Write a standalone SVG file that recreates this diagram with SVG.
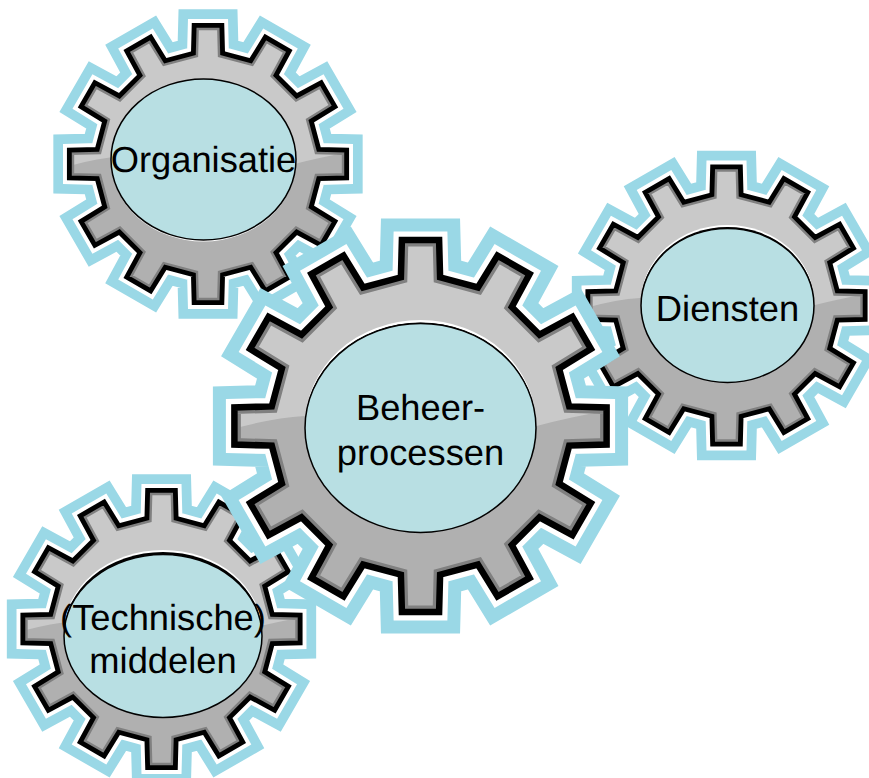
<svg xmlns="http://www.w3.org/2000/svg" width="869" height="778" viewBox="0 0 869 778">
<style>
.halo{fill:none;stroke:#9ad8e6;stroke-width:43;stroke-linejoin:miter;stroke-miterlimit:12}
.gap{fill:#fff;stroke:#fff;stroke-width:17;stroke-linejoin:miter;stroke-miterlimit:12}
.bevel{fill:none;stroke:#808080;stroke-width:13;stroke-linejoin:miter}
.edge{fill:none;stroke:#000;stroke-width:6.5;stroke-linejoin:miter;stroke-miterlimit:12}
.hub{fill:#b8dfe3;stroke:#000;stroke-width:1.5}
.shine{fill:#fff}
.rim{fill:#000}
text{font-family:"Liberation Sans",Arial,sans-serif;font-size:36.3px;fill:#000;text-anchor:middle;text-rendering:geometricPrecision}
</style>
<defs>
<polygon id="outline" points="18.6,-186.1 19.6,-148.7 57.4,-138.6 77,-170.4 109.1,-151.9 91.3,-119 119,-91.3 151.9,-109.1 170.4,-77 138.6,-57.4 148.7,-19.6 186.1,-18.6 186.1,18.6 148.7,19.6 138.6,57.4 170.4,77 151.9,109.1 119,91.3 91.3,119 109.1,151.9 77,170.4 57.4,138.6 19.6,148.7 18.6,186.1 -18.6,186.1 -19.6,148.7 -57.4,138.6 -77,170.4 -109.1,151.9 -91.3,119 -119,91.3 -151.9,109.1 -170.4,77 -138.6,57.4 -148.7,19.6 -186.1,18.6 -186.1,-18.6 -148.7,-19.6 -138.6,-57.4 -170.4,-77 -151.9,-109.1 -119,-91.3 -91.3,-119 -109.1,-151.9 -77,-170.4 -57.4,-138.6 -19.6,-148.7 -18.6,-186.1"/>
<clipPath id="inside"><use href="#outline"/></clipPath>
<g id="gear">
<use href="#outline" class="halo"/>
<use href="#outline" class="gap"/>
<g clip-path="url(#inside)">
<rect x="-195" y="-195" width="390" height="390" fill="#b0b0b0"/>
<path d="M-195,5 Q-150,-8 -116,-10 L116,0 Q150,-9 195,-17 L195,-195 L-195,-195 Z" fill="#c9c9c9"/>
<use href="#outline" class="bevel"/>
</g>
<use href="#outline" class="edge"/>
</g>
</defs>
<g id="connectors"/>
<g id="node-organisatie">
<use href="#gear" transform="translate(208 164) scale(.745)"/>
<ellipse class="shine" cx="203.5" cy="161" rx="92.5" ry="80.5"/>
<ellipse class="hub" cx="203.5" cy="159.5" rx="92.5" ry="80.5"/>
<text x="203.5" y="172">Organisatie</text>
</g>
<g id="node-diensten">
<use href="#gear" transform="translate(726.5 305.5) scale(.745)"/>
<ellipse class="shine" cx="727.5" cy="302" rx="86.5" ry="77"/>
<ellipse class="rim" cx="727.5" cy="304" rx="86.5" ry="77"/>
<ellipse class="hub" cx="727.5" cy="305.5" rx="86.5" ry="77"/>
<text x="727.5" y="321">Diensten</text>
</g>
<g id="node-middelen">
<use href="#gear" transform="translate(161.5 629) scale(.745)"/>
<ellipse class="shine" cx="163" cy="632" rx="99" ry="82"/>
<ellipse class="rim" cx="163" cy="634" rx="99" ry="82"/>
<ellipse class="hub" cx="163" cy="636" rx="99" ry="81.5"/>
<text x="163" y="630">(Technische)</text>
<text x="163" y="672.5">middelen</text>
</g>
<g id="node-beheerprocessen">
<use href="#gear" transform="translate(420.5 426)"/>
<ellipse class="shine" cx="420.5" cy="424.5" rx="115.5" ry="104.5"/>
<ellipse class="rim" cx="420.5" cy="427" rx="115.5" ry="104.5"/>
<ellipse class="hub" cx="420.5" cy="428" rx="115.5" ry="104.5"/>
<text x="420.5" y="420">Beheer-</text>
<text x="420.5" y="465">processen</text>
</g>
</svg>
